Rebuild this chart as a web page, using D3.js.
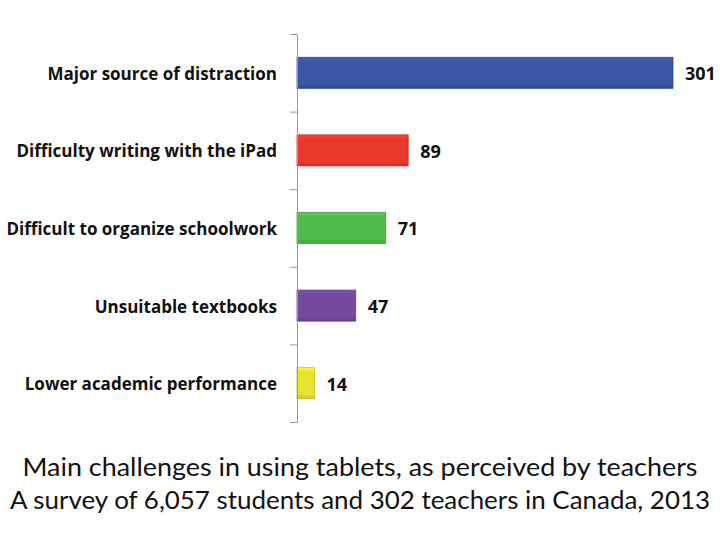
<!DOCTYPE html>
<html>
<head>
<meta charset="utf-8">
<script src="https://cdn.jsdelivr.net/npm/d3@7"></script>
<style>
  body { margin: 0; background: #fff; }
  svg { display: block; }
</style>
</head>
<body>
<div id="chart"></div>
<script>
// data
var categories = ["Major source of distraction", "Difficulty writing with the iPad",
                  "Difficult to organize schoolwork", "Unsuitable textbooks", "Lower academic performance"];
var values = [301, 89, 71, 47, 14];
var barColors = ["#3b56a7", "#e8392b", "#4fbb4b", "#7649a0", "#e9e22f"];
var titleLines = ["Main challenges in using tablets, as perceived by teachers",
                  "A survey of 6,057 students and 302 teachers in Canada, 2013"];
var titleWidths = [675, 700];

var width = 720, height = 540;
var plotLeft = 297, plotTop = 34, plotH = 388;

var svg = d3.select("#chart").append("svg")
    .attr("width", width)
    .attr("height", height);

var defs = svg.append("defs");
barColors.forEach(function(c, i) {
    var g = defs.append("linearGradient")
        .attr("id", "grad" + i)
        .attr("x1", 0).attr("y1", 0).attr("x2", 0).attr("y2", 1);
    g.append("stop").attr("offset", "0%").attr("stop-color", d3.color(c).brighter(0.3));
    g.append("stop").attr("offset", "15%").attr("stop-color", c);
    g.append("stop").attr("offset", "85%").attr("stop-color", c);
    g.append("stop").attr("offset", "100%").attr("stop-color", d3.color(c).darker(0.4));
});

var xScale = d3.scaleLinear()
    .domain([0, 301])
    .range([plotLeft, 673]);

var yBand = d3.scaleBand()
    .domain(categories)
    .range([plotTop, plotTop + plotH])
    .paddingInner(0.6)
    .paddingOuter(0.3);

// bars
svg.selectAll("rect.bar")
    .data(values)
    .enter().append("rect")
    .attr("class", "bar")
    .attr("x", xScale(0))
    .attr("y", (d, i) => yBand(categories[i]))
    .attr("width", d => xScale(d) - xScale(0))
    .attr("height", yBand.bandwidth())
    .attr("fill", (d, i) => "url(#grad" + i + ")")
    .attr("stroke", (d, i) => d3.color(barColors[i]).darker(0.5))
    .attr("stroke-width", 0.8);

// value labels
svg.selectAll("text.val")
    .data(values)
    .enter().append("text")
    .attr("class", "val")
    .attr("x", d => xScale(d) + 12)
    .attr("y", (d, i) => yBand(categories[i]) + yBand.bandwidth() / 2 + 1)
    .attr("dy", "0.35em")
    .attr("font-family", "'Open Sans', sans-serif")
    .attr("font-weight", "bold")
    .attr("font-size", 18)
    .attr("fill", "#111")
    .text(d => d);

// axis with ticks between categories
var tickScale = d3.scaleLinear().domain([0, categories.length]).range([plotTop, plotTop + plotH]);
var axis = svg.append("g").attr("transform", `translate(${plotLeft},0)`)
    .call(d3.axisLeft(tickScale).ticks(categories.length).tickFormat("").tickSize(7).tickSizeOuter(7));
axis.selectAll("path, line").attr("stroke", "#999");

// category labels
svg.selectAll("text.cat")
    .data(categories)
    .enter().append("text")
    .attr("class", "cat")
    .attr("x", 277)
    .attr("y", d => yBand(d) + yBand.bandwidth() / 2 + 1)
    .attr("dy", "0.35em")
    .attr("text-anchor", "end")
    .attr("font-family", "'Open Sans', sans-serif")
    .attr("font-weight", "bold")
    .attr("font-size", 17)
    .attr("fill", "#111")
    .text(d => d);

// title
svg.selectAll("text.title")
    .data(titleLines)
    .enter().append("text")
    .attr("class", "title")
    .attr("x", 360)
    .attr("y", (d, i) => 476 + i * 33)
    .attr("text-anchor", "middle")
    .attr("font-family", "Lato, sans-serif")
    .attr("font-size", 25)
    .attr("textLength", (d, i) => titleWidths[i])
    .attr("lengthAdjust", "spacingAndGlyphs")
    .attr("fill", "#111")
    .text(d => d);
</script>
</body>
</html>
